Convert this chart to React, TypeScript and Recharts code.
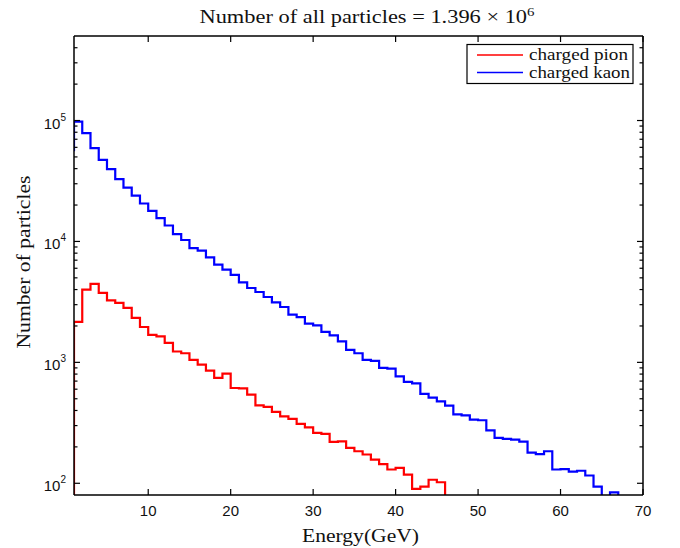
import React from 'react';
import { LineChart, Line, XAxis, YAxis } from 'recharts';

// Left edges of 1 GeV energy bins (the stairs step at every integer energy)
const energyEdges = [
  0, 1, 2, 3, 4, 5, 6, 7, 8, 9, 10, 11, 12, 13, 14, 15, 16, 17, 18, 19, 20,
  21, 22, 23, 24, 25, 26, 27, 28, 29, 30, 31, 32, 33, 34, 35, 36, 37, 38, 39, 40,
  41, 42, 43, 44, 45, 46, 47, 48, 49, 50, 51, 52, 53, 54, 55, 56, 57, 58, 59, 60,
  61, 62, 63, 64, 65, 66, 67, 68, 69, 70,
];

// charged pion counts per bin (bin starting at energyEdges[i]); 50 = below axis floor
const pionCounts = [
  50,
  2160, 3990, 4450, 3750, 3250, 3100, 2820, 2330, 1960, 1690,
  1640, 1450, 1230, 1190, 1050, 957, 853, 743, 807, 614,
  610, 540, 441, 428, 389, 358, 341, 310, 290, 261,
  256, 220, 222, 196, 184, 173, 157, 144, 130, 134,
  118, 90, 94, 107, 102, 50,
];

// charged kaon counts per bin
const kaonCounts = [
  57000,
  98000, 78700, 59100, 47300, 39600, 32800, 27900, 23900, 20600, 17900,
  15600, 13550, 11500, 10280, 8820, 8380, 7380, 6420, 5840, 5300,
  4580, 4120, 3820, 3470, 3130, 2870, 2480, 2370, 2090, 2020,
  1790, 1670, 1490, 1270, 1190, 1050, 1030, 900, 888, 766,
  689, 670, 548, 511, 476, 439, 372, 365, 336, 332,
  274, 237, 233, 230, 221, 179, 174, 184, 130, 131,
  125, 127, 116, 94, 60, 84, 50,
];

const xTicks = [10, 20, 30, 40, 50, 60, 70];
const yTicks = [
  100, 200, 300, 400, 500, 600, 700, 800, 900,
  1000, 2000, 3000, 4000, 5000, 6000, 7000, 8000, 9000,
  10000, 20000, 30000, 40000, 50000, 60000, 70000, 80000, 90000,
  100000, 200000, 300000, 400000,
];
const xDomain = [1, 70];
const yDomain = [80, 500000];

const seriesNames = ['charged pion', 'charged kaon'];
const titleText = 'Number of all particles = 1.396 \u00d7 10';
const titleExp = '6';
const xLabel = 'Energy(GeV)';
const yLabel = 'Number of particles';

const pionData = pionCounts.map((c, i) => ({ energy: energyEdges[i], count: c }));
const kaonData = kaonCounts.map((c, i) => ({ energy: energyEdges[i], count: c }));

const SANS = '"Liberation Sans", Arial, Helvetica, sans-serif';
const SERIF = '"Liberation Serif", "Times New Roman", serif';
const RED = '#ff0000';
const BLUE = '#0000ff';
const AXIS = '#000';

const isMajor = (v: number) => {
  const e = Math.log10(v);
  return Math.abs(e - Math.round(e)) < 1e-9;
};

const BottomTick = (props: any) => {
  const { x, y, payload } = props;
  return (
    <g>
      <line x1={x} x2={x} y1={y} y2={y - 6} stroke={AXIS} strokeWidth={1.2} />
      <text x={x} y={y + 21} textAnchor="middle" fontSize={15} fontFamily={SANS} fill="#111">
        {payload.value}
      </text>
    </g>
  );
};

const TopTick = (props: any) => {
  const { x, y } = props;
  return <line x1={x} x2={x} y1={y} y2={y + 6} stroke={AXIS} strokeWidth={1.2} />;
};

const LeftTick = (props: any) => {
  const { x, y, payload } = props;
  const v = payload.value as number;
  const major = isMajor(v);
  return (
    <g>
      <line x1={x} x2={x + (major ? 6 : 3.5)} y1={y} y2={y} stroke={AXIS} strokeWidth={1.2} />
      {major && (
        <text x={x - 8} y={y + 8} textAnchor="end" fontSize={15} fontFamily={SANS} fill="#111">
          10
          <tspan dy={-8} fontSize={10}>
            {Math.round(Math.log10(v))}
          </tspan>
        </text>
      )}
    </g>
  );
};

const RightTick = (props: any) => {
  const { x, y, payload } = props;
  const major = isMajor(payload.value);
  return <line x1={x} x2={x - (major ? 6 : 3.5)} y1={y} y2={y} stroke={AXIS} strokeWidth={1.2} />;
};

const XLabelContent = (props: any) => {
  const vb = props.viewBox || {};
  const cx = vb.x + vb.width / 2 + 2;
  return (
    <text x={cx} y={541.5} textAnchor="middle" fontSize={18} fontFamily={SERIF} fill="#111" textLength={117} lengthAdjust="spacingAndGlyphs">
      {xLabel}
    </text>
  );
};

const YLabelContent = () => {
  const cy = 262;
  const cx = 30;
  return (
    <text
      x={cx}
      y={cy}
      transform={`rotate(-90 ${cx} ${cy})`}
      textAnchor="middle"
      fontSize={18}
      fontFamily={SERIF}
      fill="#111"
      textLength={173}
      lengthAdjust="spacingAndGlyphs"
    >
      {yLabel}
    </text>
  );
};

export default function App() {
  return (
    <div style={{ position: 'absolute', left: 0, top: 0, width: 680, height: 548, background: '#fff' }}>
      <LineChart width={680} height={548} margin={{ top: 35, right: 36, bottom: 0, left: 0 }}>
        <XAxis
          xAxisId="bottom"
          dataKey="energy"
          type="number"
          domain={xDomain}
          allowDataOverflow
          ticks={xTicks}
          interval={0}
          height={53}
          tickSize={0}
          tickMargin={0}
          tickLine={false}
          axisLine={{ stroke: AXIS, strokeWidth: 1.5 }}
          tick={<BottomTick />}
          label={<XLabelContent />}
        />
        <XAxis
          xAxisId="top"
          orientation="top"
          dataKey="energy"
          type="number"
          domain={xDomain}
          allowDataOverflow
          ticks={xTicks}
          interval={0}
          height={1}
          tickSize={0}
          tickMargin={0}
          tickLine={false}
          axisLine={{ stroke: AXIS, strokeWidth: 1.5 }}
          tick={<TopTick />}
        />
        <YAxis
          yAxisId="left"
          type="number"
          scale="log"
          domain={yDomain}
          allowDataOverflow
          ticks={yTicks}
          interval={0}
          width={74}
          tickSize={0}
          tickMargin={0}
          tickLine={false}
          axisLine={{ stroke: AXIS, strokeWidth: 1.5 }}
          tick={<LeftTick />}
          label={<YLabelContent />}
        />
        <YAxis
          yAxisId="right"
          orientation="right"
          type="number"
          scale="log"
          domain={yDomain}
          allowDataOverflow
          ticks={yTicks}
          interval={0}
          width={1}
          tickSize={0}
          tickMargin={0}
          tickLine={false}
          axisLine={{ stroke: AXIS, strokeWidth: 1.5 }}
          tick={<RightTick />}
        />
        {/* invisible series binding the mirrored top/right axes of the box */}
        <Line
          xAxisId="top"
          yAxisId="right"
          data={kaonData}
          dataKey="count"
          type="stepAfter"
          stroke="none"
          strokeWidth={0}
          dot={false}
          activeDot={false}
          legendType="none"
          isAnimationActive={false}
        />
        <Line
          xAxisId="bottom"
          yAxisId="left"
          data={pionData}
          dataKey="count"
          name={seriesNames[0]}
          type="stepAfter"
          stroke={RED}
          strokeWidth={2.2}
          dot={false}
          activeDot={false}
          isAnimationActive={false}
        />
        <Line
          xAxisId="bottom"
          yAxisId="left"
          data={kaonData}
          dataKey="count"
          name={seriesNames[1]}
          type="stepAfter"
          stroke={BLUE}
          strokeWidth={2.2}
          dot={false}
          activeDot={false}
          isAnimationActive={false}
        />
      </LineChart>
      <svg
        width={680}
        height={548}
        style={{ position: 'absolute', left: 0, top: 0, pointerEvents: 'none' }}
      >
        <text x={367} y={22.5} textAnchor="middle" fontSize={18} fontFamily={SERIF} fill="#111" textLength={335} lengthAdjust="spacingAndGlyphs">
          {titleText}
          <tspan dy={-7} fontSize={12}>{titleExp}</tspan>
        </text>
        <rect x={467} y={44.5} width={166} height={39} fill="#fff" stroke="#000" strokeWidth={1.2} />
        <line x1={477} x2={523} y1={55} y2={55} stroke={RED} strokeWidth={1.5} />
        <line x1={477} x2={523} y1={72.5} y2={72.5} stroke={BLUE} strokeWidth={1.5} />
        <text x={529} y={60} fontSize={17} fontFamily={SERIF} fill="#111" textLength={99} lengthAdjust="spacingAndGlyphs">
          {seriesNames[0]}
        </text>
        <text x={529} y={77.5} fontSize={17} fontFamily={SERIF} fill="#111" textLength={101} lengthAdjust="spacingAndGlyphs">
          {seriesNames[1]}
        </text>
      </svg>
    </div>
  );
}
